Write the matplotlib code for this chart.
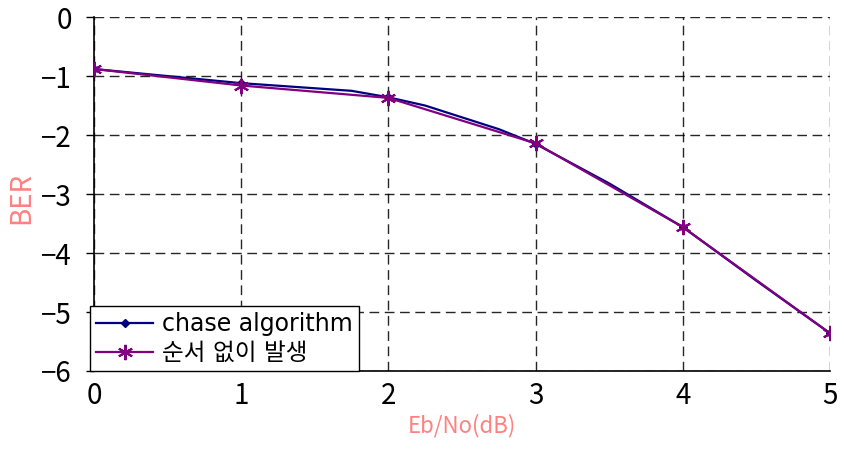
import matplotlib
matplotlib.use("Agg")
import matplotlib.pyplot as plt

plt.rcParams['font.family'] = ['Noto Sans CJK KR', 'DejaVu Sans']

# chase algorithm: markers only on whole dB values
chase_x = [0, 1, 1.75, 2, 2.25, 2.75, 3, 3.5, 4, 4.5, 5]
chase_y = [-0.88, -1.12, -1.25, -1.36, -1.50, -1.90, -2.15, -2.82, -3.56, -4.47, -5.36]
chase_marks = [0, 1, 3, 6, 8, 10]

seq_x = [0, 1, 2, 3, 4, 5]
seq_y = [-0.88, -1.16, -1.37, -2.14, -3.56, -5.36]

labels = ["chase algorithm", "순서 없이 발생"]
xticks = [0, 1, 2, 3, 4, 5]
yticks = [0, -1, -2, -3, -4, -5, -6]

fig = plt.figure(figsize=(8.44, 4.62), dpi=100)
ax = fig.add_axes([0.1114, 0.197, 0.872, 0.766])

ax.plot(chase_x, chase_y, color="#000080", lw=1.6, marker="D", ms=4.5,
        markevery=chase_marks, label=labels[0], zorder=3)
ax.plot(seq_x, seq_y, color="#800080", lw=1.6, marker=(6, 2, 0), ms=11,
        mew=1.5, label=labels[1], zorder=4)

ax.set_xlim(0, 5)
ax.set_ylim(-6, 0)
ax.set_xticks(xticks)
ax.set_yticks(yticks)
ax.grid(True, color="black", ls=(0, (7, 4)), lw=1.0, alpha=0.85)

for s in ["top", "right"]:
    ax.spines[s].set_visible(False)
ax.spines["left"].set_linewidth(1.2)
ax.spines["bottom"].set_linewidth(1.2)

ax.tick_params(axis="y", length=6, width=1, pad=10, labelsize=20)
ax.tick_params(axis="x", length=0, pad=7, labelsize=20)

ax.set_ylabel("BER", color="#FF8080", fontsize=20)
ax.yaxis.set_label_coords(-0.079, 0.49)
ax.set_xlabel("Eb/No(dB)", color="#FF8080", fontsize=16, labelpad=2)

leg = ax.legend(loc="lower left", bbox_to_anchor=(-0.005, 0.0), borderaxespad=0,
                prop={"family": ["DejaVu Sans", "Noto Sans CJK KR"], "size": 17},
                fancybox=False, framealpha=1, edgecolor="black",
                handlelength=2.4, borderpad=0.25, labelspacing=0.2, handletextpad=0.4)
leg.get_frame().set_linewidth(1.0)
leg.set_zorder(5)

fig.savefig("out.png", dpi=100)
